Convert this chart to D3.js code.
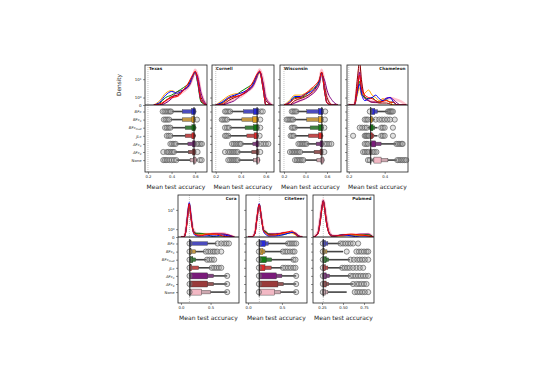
<!DOCTYPE html>
<html>
<head>
<meta charset="utf-8">
<script src="https://cdn.jsdelivr.net/npm/d3@7"></script>
<style>
body { margin: 0; background: #fff; }
svg { font-family: "DejaVu Sans", sans-serif; }
</style>
</head>
<body>
<svg id="chart" width="545" height="373"></svg>
<script>
// datasety a metody
const datasets = ["Texas", "Cornell", "Wisconsin", "Chameleon", "Cora", "CiteSeer", "Pubmed"];
const methodBase = ["BFc", "BFc", "BFc", "JLc", "AFc", "AFc", "None"];
const methodSub = ["", "3", "mod", "", "3", "4", ""];
const lineColors = ["#0000ff", "#ffa500", "#008000", "#ff0000", "#800080", "#8b0000", "#ffb6c4"];
const boxColors = ["#2a2ad8", "#e0a020", "#157a15", "#e02a2a", "#7a1a7a", "#9a3a3a", "#f2b8c4"];

// osy x
const xDomains = [[0.175, 0.70], [0.17, 0.665], [0.163, 0.73], [0.19, 0.53], [-0.05, 0.98], [-0.03, 0.87], [0.143, 0.869]];
const xTicks = [[0.2, 0.4, 0.6], [0.2, 0.4, 0.6], [0.2, 0.4, 0.6], [0.2, 0.4], [0, 0.5], [0, 0.5], [0.25, 0.5, 0.75]];
const xTickFormats = [".1f", ".1f", ".1f", ".1f", ".1f", ".1f", ".2f"];
const densityTicks = [0, 1, 10];
const chance = [0.2, 0.2, 0.2, 0.2, 0.143, 0.167, 0.265];
const refLine = [0.59, 0.53, 0.552, 0.322, 0.15, 0.165, 0.265];

// hustoty (KDE) - x mrizka a hodnoty pro kazdou metodu
const texasGrid = [0.25, 0.3, 0.35, 0.4, 0.45, 0.5, 0.55, 0.58, 0.6, 0.62, 0.65, 0.7];
const texasDensity = [
  [0, 0.3, 1.5, 2.5, 2, 3, 6, 14, 20, 8, 0.5, 0],
  [0, 0.5, 2, 2.8, 2, 3, 6, 13, 19, 8, 0.5, 0],
  [0, 0.2, 1, 1.5, 2.5, 4, 7, 14, 20, 7, 0.3, 0],
  [0, 0.1, 0.5, 1, 1.2, 3, 8, 16, 22, 10, 0.5, 0],
  [0, 0, 0.2, 0.8, 2.5, 3, 5, 12, 20, 14, 2, 0],
  [0, 0, 0.5, 1.2, 1.5, 3, 6, 14, 21, 10, 1, 0],
  [0, 0, 0.3, 1, 1.5, 2.5, 5, 12, 25, 15, 2, 0]
];
const cornellGrid = [0.2, 0.25, 0.3, 0.35, 0.4, 0.45, 0.5, 0.53, 0.55, 0.58, 0.6, 0.65];
const cornellDensity = [
  [0, 0.3, 1, 1.5, 2, 3, 6, 15, 20, 3, 0, 0],
  [0, 0.5, 1.3, 1.8, 2, 3, 6, 14, 18, 3, 0, 0],
  [0, 0.2, 0.8, 1.3, 2.5, 4, 7, 15, 20, 3, 0, 0],
  [0, 0.1, 0.8, 1.2, 1.5, 3, 8, 17, 22, 3, 0, 0],
  [0, 0, 0.2, 0.5, 1.5, 2.5, 5, 12, 22, 6, 1, 0],
  [0, 0, 0.5, 1, 1.5, 2.5, 6, 14, 22, 5, 0.5, 0],
  [0, 0, 0.3, 0.8, 1.2, 2.5, 5, 14, 26, 8, 1, 0]
];
const wisconsinGrid = [0.2, 0.25, 0.3, 0.35, 0.4, 0.45, 0.5, 0.53, 0.55, 0.58, 0.6, 0.65, 0.7];
const wisconsinDensity = [
  [0, 0.3, 1.2, 1.2, 1.8, 2.5, 4.5, 8, 18, 2, 0.2, 0, 0],
  [0, 0.5, 1.5, 1.5, 2, 3, 4.5, 7, 16, 2, 0.2, 0, 0],
  [0, 0.2, 1, 1, 1.5, 3, 5, 9, 19, 2, 0.2, 0, 0],
  [0, 0.2, 0.8, 1, 1.8, 3.5, 6, 10, 20, 2, 0.2, 0, 0],
  [0, 0, 0.2, 0.5, 0.8, 1.5, 3, 6, 15, 8, 3, 0.5, 0],
  [0, 0, 0.5, 0.8, 1.2, 2, 4, 8, 20, 4, 1, 0, 0],
  [0, 0, 0.3, 0.5, 1, 1.8, 3.5, 8, 25, 5, 1, 0, 0]
];
const chameleonGrid = [0.2, 0.23, 0.25, 0.26, 0.27, 0.29, 0.31, 0.33, 0.35, 0.37, 0.39, 0.41, 0.43, 0.45, 0.47, 0.49, 0.52];
const chameleonDensity = [
  [0, 0, 3, 6, 2, 0.5, 0.8, 1, 1.5, 0.8, 0.5, 0.8, 1, 0.3, 0, 0, 0],
  [0, 0, 2, 4, 1.5, 2, 3, 1.5, 1, 0.5, 0.8, 0.5, 0.3, 0, 0, 0, 0],
  [0, 0, 3, 8, 2, 1, 0.8, 1, 0.5, 0.3, 0.5, 0.6, 0.3, 0.3, 0, 0, 0],
  [0, 0, 5, 15, 4, 1.5, 1, 0.8, 0.5, 0.3, 0.4, 0.5, 0.3, 0.3, 0, 0, 0],
  [0, 0, 4, 20, 3, 0.8, 0.5, 0.3, 0.3, 0.3, 0.5, 0.9, 1, 0.6, 0.2, 0, 0],
  [0, 0, 15, 60, 10, 1, 0.5, 0.3, 0.3, 0.2, 0.2, 0.2, 0.1, 0, 0, 0, 0],
  [0, 0, 8, 30, 6, 1, 0.6, 0.4, 0.3, 0.3, 0.6, 0.8, 0.9, 0.8, 0.6, 0.4, 0]
];
const coraGrid = [0.0, 0.05, 0.08, 0.11, 0.14, 0.17, 0.2, 0.23, 0.27, 0.3, 0.4, 0.5, 0.6, 0.7, 0.8, 0.9];
const coraDensity = [
  [0, 0, 0.5, 6, 20, 6, 0.8, 0.2, 0.1, 0.1, 0.1, 0.1, 0.1, 0.2, 0.1, 0],
  [0, 0, 0.5, 5, 17, 5, 0.8, 0.3, 0.2, 0.2, 0.3, 0.3, 0.2, 0.2, 0, 0],
  [0, 0, 0.5, 5, 18, 5, 1, 0.4, 0.4, 0.4, 0.3, 0.1, 0, 0, 0, 0],
  [0, 0, 0.5, 5, 18, 5, 0.8, 0.3, 0.2, 0.1, 0.2, 0.3, 0.3, 0.1, 0, 0],
  [0, 0, 0.6, 4, 14, 4, 1, 0.5, 0.3, 0.3, 0.3, 0.3, 0.3, 0.3, 0.2, 0],
  [0, 0, 0.6, 4, 14, 4, 1, 0.5, 0.3, 0.3, 0.3, 0.3, 0.3, 0.3, 0.2, 0],
  [0, 0, 0.8, 5, 16, 5, 1.2, 0.6, 0.3, 0.3, 0.3, 0.3, 0.4, 0.4, 0.2, 0]
];
const citeseerGrid = [0.0, 0.05, 0.1, 0.13, 0.165, 0.2, 0.23, 0.27, 0.3, 0.4, 0.5, 0.6, 0.65, 0.7, 0.75, 0.8];
const citeseerDensity = [
  [0, 0, 0.3, 4, 18, 4, 0.6, 0.2, 0.1, 0.1, 0.2, 0.4, 0.5, 0.3, 0, 0],
  [0, 0, 0.3, 4, 16, 4, 0.6, 0.3, 0.1, 0.2, 0.3, 0.5, 0.4, 0.2, 0, 0],
  [0, 0, 0.3, 4, 17, 4, 0.8, 0.6, 0.3, 0.2, 0.2, 0.4, 0.5, 0.3, 0, 0],
  [0, 0, 0.3, 4, 17, 4, 0.7, 0.4, 0.2, 0.2, 0.4, 0.6, 0.7, 0.3, 0, 0],
  [0, 0, 0.4, 3.5, 14, 3.5, 0.8, 0.5, 0.3, 0.3, 0.4, 0.5, 0.5, 0.4, 0.1, 0],
  [0, 0, 0.4, 3.5, 14, 3.5, 0.8, 0.5, 0.3, 0.3, 0.4, 0.5, 0.5, 0.4, 0.1, 0],
  [0, 0, 0.5, 4, 15, 4, 1, 0.5, 0.3, 0.3, 0.4, 0.5, 0.5, 0.4, 0.1, 0]
];
const pubmedGrid = [0.15, 0.2, 0.23, 0.25, 0.265, 0.28, 0.3, 0.33, 0.36, 0.4, 0.5, 0.6, 0.7, 0.8, 0.86];
const pubmedDensity = [
  [0, 0.3, 3, 12, 22, 12, 3, 0.5, 0.1, 0.1, 0.2, 0.1, 0, 0, 0],
  [0, 0.3, 3, 12, 22, 12, 3, 0.5, 0.1, 0.1, 0.1, 0.2, 0.2, 0.1, 0],
  [0, 0.3, 3, 12, 22, 12, 3, 0.5, 0.1, 0.1, 0.2, 0.2, 0.2, 0.2, 0],
  [0, 0.3, 3, 12, 22, 12, 3, 0.5, 0.1, 0.1, 0.2, 0.3, 0.2, 0.1, 0],
  [0, 0.4, 4, 14, 24, 14, 4, 0.6, 0.2, 0.1, 0.2, 0.2, 0.3, 0.3, 0],
  [0, 0.4, 4, 14, 24, 14, 4, 0.6, 0.2, 0.1, 0.2, 0.2, 0.2, 0.2, 0],
  [0, 0.5, 5, 16, 26, 16, 5, 1, 0.2, 0.1, 0.2, 0.2, 0.2, 0.3, 0]
];

// boxen ploty: [konec cary vlevo, stredni box vlevo, vnitrni box vlevo, vnitrni box vpravo, stredni box vpravo, konec cary vpravo]
const texasBoxes = [
  [0.40, 0.49, 0.57, 0.60, 0.605, 0.61],
  [0.39, 0.49, 0.572, 0.595, 0.60, 0.605],
  [0.40, 0.515, 0.572, 0.60, 0.605, 0.61],
  [0.40, 0.515, 0.572, 0.594, 0.60, 0.605],
  [0.444, 0.538, 0.577, 0.60, 0.606, 0.61],
  [0.43, 0.543, 0.577, 0.60, 0.605, 0.61],
  [0.444, 0.557, 0.586, 0.606, 0.61, 0.615]
];
const texasOutliers = [
  [0.325, 0.34, 0.355, 0.37, 0.385, 0.395],
  [0.335, 0.35, 0.365, 0.38, 0.615],
  [0.345, 0.36, 0.375, 0.39],
  [0.36, 0.375, 0.39],
  [0.39, 0.405, 0.42, 0.435, 0.615, 0.63, 0.645, 0.657],
  [0.33, 0.36, 0.375, 0.39, 0.405, 0.42, 0.62],
  [0.33, 0.345, 0.36, 0.38, 0.40, 0.42, 0.44, 0.64, 0.655]
];
const cornellBoxes = [
  [0.32, 0.421, 0.50, 0.541, 0.546, 0.55],
  [0.301, 0.408, 0.496, 0.533, 0.54, 0.545],
  [0.314, 0.434, 0.501, 0.541, 0.546, 0.55],
  [0.30, 0.448, 0.506, 0.533, 0.54, 0.545],
  [0.408, 0.496, 0.522, 0.541, 0.546, 0.55],
  [0.381, 0.488, 0.528, 0.541, 0.545, 0.548],
  [0.381, 0.501, 0.528, 0.546, 0.55, 0.555]
];
const cornellOutliers = [
  [0.274, 0.285, 0.30, 0.315, 0.56, 0.575],
  [0.248, 0.26, 0.275, 0.29, 0.555],
  [0.274, 0.29, 0.305, 0.555],
  [0.274, 0.285, 0.30, 0.55],
  [0.33, 0.345, 0.36, 0.375, 0.39, 0.40, 0.56, 0.58, 0.60, 0.62],
  [0.274, 0.30, 0.315, 0.33, 0.345, 0.36, 0.375, 0.555],
  [0.30, 0.315, 0.33, 0.345, 0.36, 0.375]
];
const wisconsinBoxes = [
  [0.318, 0.412, 0.521, 0.561, 0.566, 0.57],
  [0.287, 0.412, 0.521, 0.558, 0.563, 0.567],
  [0.303, 0.443, 0.521, 0.561, 0.566, 0.57],
  [0.30, 0.428, 0.521, 0.555, 0.56, 0.565],
  [0.41, 0.499, 0.536, 0.561, 0.566, 0.57],
  [0.365, 0.48, 0.536, 0.558, 0.562, 0.566],
  [0.396, 0.506, 0.543, 0.568, 0.572, 0.576]
];
const wisconsinOutliers = [
  [0.272, 0.285, 0.30, 0.315, 0.583],
  [0.225, 0.24, 0.255, 0.27, 0.285, 0.58],
  [0.272, 0.285, 0.30, 0.575],
  [0.262, 0.275, 0.29],
  [0.334, 0.35, 0.365, 0.38, 0.395, 0.41, 0.58, 0.60, 0.62, 0.64],
  [0.256, 0.275, 0.29, 0.305, 0.32, 0.335, 0.35, 0.575],
  [0.303, 0.32, 0.335, 0.35, 0.365, 0.38]
];
const chameleonBoxes = [
  [0.32, 0.322, 0.326, 0.345, 0.36, 0.418],
  [0.315, 0.32, 0.322, 0.33, 0.335, 0.345],
  [0.305, 0.315, 0.32, 0.335, 0.345, 0.36],
  [0.315, 0.318, 0.32, 0.332, 0.34, 0.36],
  [0.315, 0.322, 0.326, 0.35, 0.38, 0.465],
  [0.312, 0.315, 0.318, 0.325, 0.328, 0.33],
  [0.322, 0.335, 0.34, 0.38, 0.418, 0.465]
];
const chameleonOutliers = [
  [0.317, 0.418, 0.425, 0.43, 0.435, 0.44, 0.446],
  [0.289, 0.298, 0.307, 0.35, 0.37, 0.385, 0.40, 0.415, 0.43, 0.456],
  [0.261, 0.275, 0.289, 0.30, 0.381, 0.39, 0.40, 0.446],
  [0.224, 0.289, 0.295, 0.30, 0.307, 0.312, 0.381, 0.39, 0.40, 0.446],
  [0.289, 0.298, 0.307, 0.465, 0.475, 0.485, 0.495, 0.50],
  [0.28, 0.29, 0.30, 0.31, 0.335, 0.344, 0.354],
  [0.307, 0.317, 0.47, 0.48, 0.49, 0.50, 0.51, 0.52]
];
const coraBoxes = [
  [0.15, 0.15, 0.15, 0.17, 0.45, 0.6],
  [0.15, 0.15, 0.15, 0.17, 0.25, 0.40],
  [0.15, 0.15, 0.155, 0.2, 0.25, 0.43],
  [0.15, 0.15, 0.15, 0.18, 0.3, 0.5],
  [0.15, 0.15, 0.16, 0.45, 0.55, 0.78],
  [0.15, 0.15, 0.16, 0.45, 0.55, 0.78],
  [0.15, 0.15, 0.16, 0.35, 0.5, 0.78]
];
const coraOutliers = [
  [0.145, 0.62, 0.68, 0.73, 0.77, 0.81],
  [0.145, 0.42, 0.46, 0.50, 0.54, 0.57, 0.61, 0.68],
  [0.145, 0.44, 0.48, 0.52, 0.56],
  [0.145, 0.52, 0.56, 0.60, 0.64, 0.68],
  [0.145, 0.78],
  [0.145, 0.78],
  [0.145, 0.78]
];
const citeseerBoxes = [
  [0.165, 0.165, 0.17, 0.254, 0.3, 0.588],
  [0.165, 0.165, 0.17, 0.22, 0.25, 0.50],
  [0.165, 0.165, 0.17, 0.27, 0.35, 0.66],
  [0.165, 0.165, 0.17, 0.25, 0.343, 0.5],
  [0.165, 0.165, 0.17, 0.417, 0.5, 0.71],
  [0.165, 0.165, 0.17, 0.441, 0.52, 0.71],
  [0.165, 0.165, 0.17, 0.392, 0.48, 0.71]
];
const citeseerOutliers = [
  [0.16, 0.59, 0.62, 0.65, 0.68, 0.71],
  [0.16, 0.515, 0.55, 0.58, 0.62, 0.66, 0.686],
  [0.16, 0.67, 0.70],
  [0.16, 0.515, 0.55, 0.59, 0.63, 0.67, 0.70],
  [0.16, 0.71],
  [0.16, 0.71],
  [0.16, 0.71]
];
const pubmedBoxes = [
  [0.26, 0.26, 0.26, 0.29, 0.32, 0.464],
  [0.26, 0.26, 0.26, 0.28, 0.31, 0.50],
  [0.26, 0.26, 0.26, 0.30, 0.33, 0.583],
  [0.26, 0.26, 0.26, 0.29, 0.32, 0.484],
  [0.26, 0.26, 0.26, 0.30, 0.34, 0.583],
  [0.26, 0.26, 0.26, 0.30, 0.33, 0.62],
  [0.26, 0.26, 0.26, 0.29, 0.32, 0.544]
];
const pubmedOutliers = [
  [0.26, 0.47, 0.50, 0.53, 0.56, 0.59, 0.62, 0.68],
  [0.26, 0.544, 0.66, 0.69, 0.72, 0.75, 0.78, 0.80],
  [0.26, 0.59, 0.63, 0.67, 0.70, 0.73, 0.76, 0.80],
  [0.26, 0.49, 0.52, 0.55, 0.58, 0.62, 0.66, 0.70, 0.74],
  [0.26, 0.59, 0.62, 0.65, 0.68, 0.71, 0.74, 0.77, 0.80],
  [0.26, 0.62, 0.66, 0.69, 0.72, 0.75, 0.78],
  [0.26, 0.64, 0.67, 0.70, 0.73, 0.76, 0.80]
];

const grids = [texasGrid, cornellGrid, wisconsinGrid, chameleonGrid, coraGrid, citeseerGrid, pubmedGrid];
const densities = [texasDensity, cornellDensity, wisconsinDensity, chameleonDensity, coraDensity, citeseerDensity, pubmedDensity];
const boxes = [texasBoxes, cornellBoxes, wisconsinBoxes, chameleonBoxes, coraBoxes, citeseerBoxes, pubmedBoxes];
const outliers = [texasOutliers, cornellOutliers, wisconsinOutliers, chameleonOutliers, coraOutliers, citeseerOutliers, pubmedOutliers];

// rozlozeni panelu (pixely)
const layout = [
  { x: 145, w: 62, top: 65, sep: 105, bottom: 172 },
  { x: 212, w: 62, top: 65, sep: 105, bottom: 172 },
  { x: 280, w: 61, top: 65, sep: 105, bottom: 172 },
  { x: 347, w: 61, top: 65, sep: 105, bottom: 172 },
  { x: 178, w: 61, top: 195, sep: 237, bottom: 303 },
  { x: 246, w: 61, top: 195, sep: 237, bottom: 303 },
  { x: 313, w: 61, top: 195, sep: 237, bottom: 303 }
];

const textColor = "#222";
const svg = d3.select("#chart");
const defs = svg.append("defs");

function styleAxis(a, size) {
  a.select(".domain").remove();
  a.selectAll(".tick line").attr("stroke", "#222").attr("stroke-width", 0.5);
  a.selectAll(".tick text").attr("fill", textColor).style("font-size", size + "px")
    .style("font-family", "DejaVu Sans, sans-serif");
}

datasets.forEach(function(name, i) {
  const p = layout[i];
  const x = d3.scaleLinear().domain(xDomains[i]).range([p.x, p.x + p.w]);
  const y = d3.scaleSymlog().constant(1).domain([0, 40]).range([p.sep, p.top]);
  const row = d3.scalePoint().domain(d3.range(7)).range([p.sep + 6.5, p.sep + 6.5 + 6 * 8.1]);
  const g = svg.append("g");
  const firstInRow = (i === 0 || i === 4);

  defs.append("clipPath").attr("id", "clip" + i)
    .append("rect").attr("x", p.x).attr("y", p.top).attr("width", p.w).attr("height", p.sep - p.top);

  // teckovana cara nahodneho odhadu
  g.append("line")
    .attr("x1", x(chance[i])).attr("x2", x(chance[i]))
    .attr("y1", p.top).attr("y2", p.bottom)
    .attr("stroke", "#999").attr("stroke-width", 0.7).attr("stroke-dasharray", "0.8,1.2");

  // hustoty - ruzova pod ostatnimi, cervena navrchu
  const line = d3.line().x(d => x(d[0])).y(d => y(d[1])).curve(d3.curveMonotoneX);
  const dg = g.append("g").attr("clip-path", "url(#clip" + i + ")");
  [6, 5, 4, 2, 1, 0, 3].forEach(function(m) {
    dg.append("path")
      .datum(grids[i].map((gx, k) => [gx, densities[i][m][k]]))
      .attr("d", line)
      .attr("fill", "none")
      .attr("stroke", lineColors[m])
      .attr("stroke-width", m === 6 ? 2.6 : 1)
      .attr("stroke-opacity", m === 6 ? 0.85 : 1);
  });

  // boxen ploty
  boxes[i].forEach(function(b, m) {
    const cy = row(m);
    const mid = d3.interpolateRgb(boxColors[m], "#8a8a8a")(0.35);
    g.append("rect").attr("x", x(b[0])).attr("width", x(b[5]) - x(b[0]))
      .attr("y", cy - 0.8).attr("height", 1.6).attr("fill", "#444");
    g.append("rect").attr("x", x(b[1])).attr("width", Math.max(0.6, x(b[4]) - x(b[1])))
      .attr("y", cy - 1.8).attr("height", 3.6).attr("fill", mid)
      .attr("stroke", "#444").attr("stroke-width", 0.4);
    g.append("rect").attr("x", x(b[2])).attr("width", Math.max(0.6, x(b[3]) - x(b[2])))
      .attr("y", cy - 3).attr("height", 6).attr("fill", boxColors[m])
      .attr("stroke", "#333").attr("stroke-width", 0.4);
  });

  outliers[i].forEach(function(list, m) {
    g.selectAll(null).data(list).enter().append("circle")
      .attr("cx", d => x(d)).attr("cy", row(m)).attr("r", 2.6)
      .attr("fill", "#9a9a9a").attr("fill-opacity", 0.3)
      .attr("stroke", "#666").attr("stroke-width", 0.75);
  });

  // cara referencni hodnoty
  g.append("line")
    .attr("x1", x(refLine[i])).attr("x2", x(refLine[i]))
    .attr("y1", row(0) - 4.5).attr("y2", row(6) + 4.5)
    .attr("stroke", "#111").attr("stroke-width", 0.9);

  // oddelovac a ramecek
  g.append("line").attr("x1", p.x).attr("x2", p.x + p.w).attr("y1", p.sep).attr("y2", p.sep)
    .attr("stroke", "#000").attr("stroke-width", 0.9);
  g.append("rect").attr("x", p.x).attr("y", p.top).attr("width", p.w).attr("height", p.bottom - p.top)
    .attr("fill", "none").attr("stroke", "#222").attr("stroke-width", 0.8);

  // osa x
  g.append("g").attr("transform", "translate(0," + p.bottom + ")")
    .call(d3.axisBottom(x).tickValues(xTicks[i]).tickSize(2).tickPadding(1.5)
      .tickFormat(d3.format(xTickFormats[i])))
    .call(a => styleAxis(a, 3.8));

  g.append("text")
    .attr("x", p.x + p.w / 2).attr("y", p.bottom + 17)
    .attr("text-anchor", "middle").attr("fill", textColor)
    .style("font-size", "6px").text("Mean test accuracy");

  // osa y hustoty
  const yAx = g.append("g").attr("transform", "translate(" + p.x + ",0)")
    .call(d3.axisLeft(y).tickValues(densityTicks).tickSize(2).tickPadding(1.5).tickFormat(""))
    .call(a => styleAxis(a, 4));
  if (firstInRow) {
    yAx.selectAll(".tick text").each(function(d) {
      const t = d3.select(this).text("");
      if (d === 0) { t.text("0"); return; }
      t.append("tspan").text("10");
      t.append("tspan").attr("dy", "-1.4").style("font-size", "2.8px").text(d === 1 ? "0" : "1");
    });
  }

  // osa y metod
  const rAx = g.append("g").attr("transform", "translate(" + p.x + ",0)")
    .call(d3.axisLeft(row).tickSize(2).tickPadding(1.5).tickFormat(""))
    .call(a => styleAxis(a, 3.8));
  if (firstInRow) {
    rAx.selectAll(".tick text").each(function(d) {
      const t = d3.select(this).text("");
      t.append("tspan").text(methodBase[d]).style("font-style", d < 6 ? "italic" : "normal");
      if (methodSub[d]) {
        t.append("tspan").attr("dy", "0.9").style("font-size", "2.6px")
          .style("font-style", "italic").text(methodSub[d]);
      }
    });
  }

  // nazev datasetu
  const right = i >= 3;
  g.append("text")
    .attr("x", right ? p.x + p.w - 2.5 : p.x + 4)
    .attr("y", p.top + 5)
    .attr("text-anchor", right ? "end" : "start")
    .attr("fill", textColor).style("font-size", "4.2px").style("font-weight", "bold")
    .text(name);

  if (i === 0) {
    g.append("text")
      .attr("transform", "translate(121," + ((p.top + p.sep) / 2) + ") rotate(-90)")
      .attr("text-anchor", "middle").attr("fill", textColor)
      .style("font-size", "5.8px").text("Density");
  }
});
</script>
</body>
</html>
